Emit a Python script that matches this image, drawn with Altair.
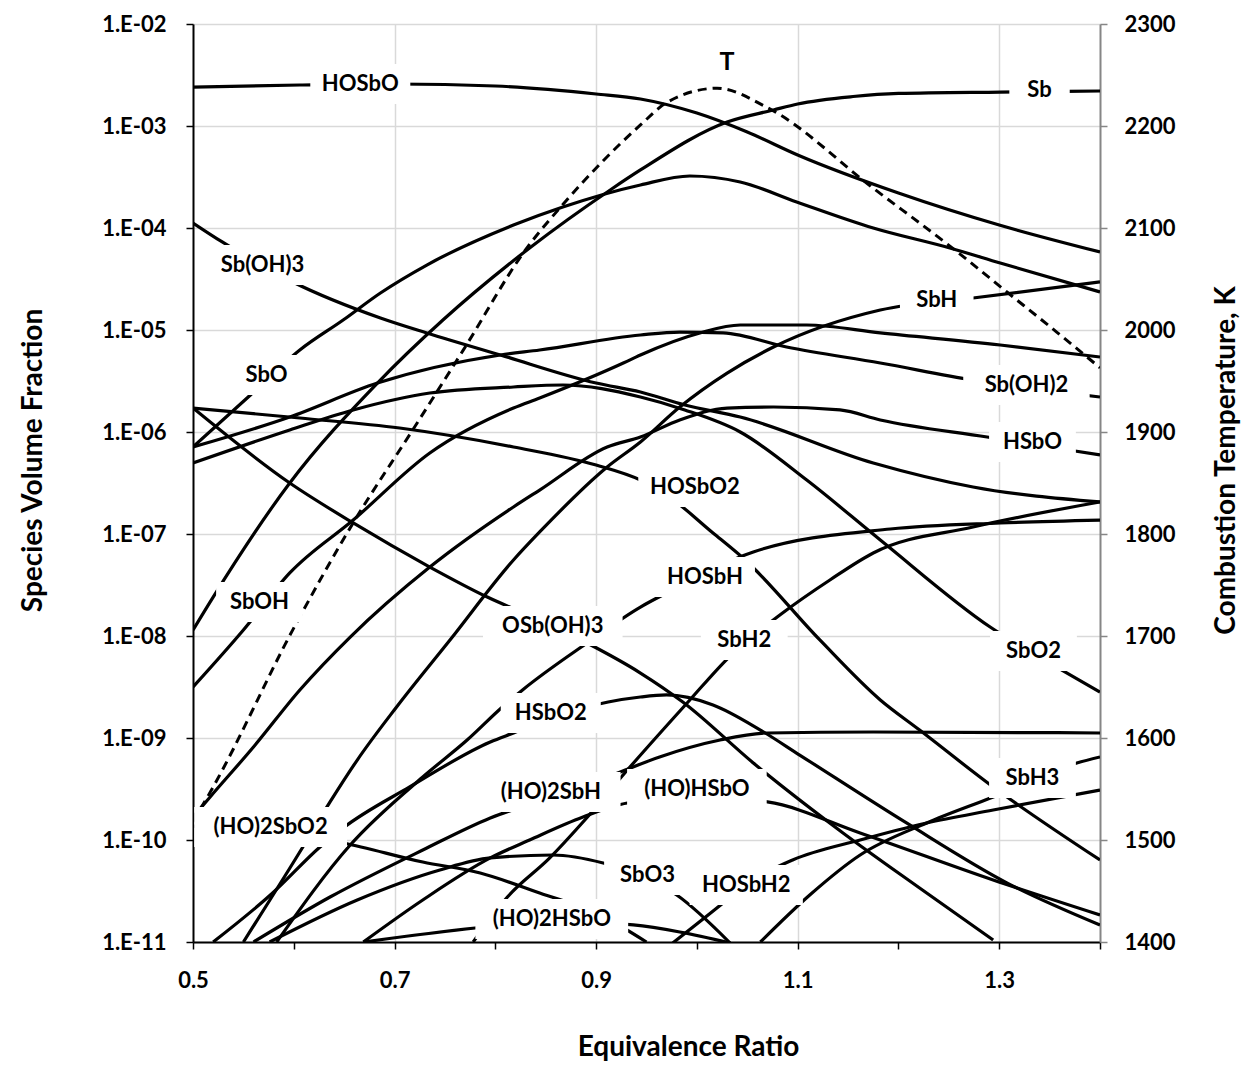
import altair as alt
import pandas as pd

# ---- values: equivalence ratio and log10(volume fraction) ----
HOSbO_phi = [0.5, 0.606, 0.7, 0.8, 0.9, 0.944, 1.0, 1.05, 1.1, 1.2, 1.3, 1.4]
HOSbO_lg = [-2.618, -2.598, -2.588, -2.608, -2.686, -2.735, -2.873, -3.059, -3.284, -3.657, -3.971, -4.235]

Sb_phi = [0.5, 0.52, 0.596, 0.683, 0.748, 0.834, 0.914, 0.944, 1.03, 1.076, 1.1, 1.155, 1.2, 1.301, 1.4]
Sb_lg = [-7.941, -7.618, -6.5, -5.52, -4.902, -4.196, -3.627, -3.431, -2.961, -2.843, -2.784, -2.711, -2.681, -2.667, -2.657]

SbO_phi = [0.5, 0.557, 0.606, 0.649, 0.686, 0.732, 0.818, 0.867, 0.944, 0.993, 1.043, 1.099, 1.175, 1.251, 1.301, 1.4]
SbO_lg = [-6.147, -5.637, -5.196, -4.902, -4.637, -4.363, -3.971, -3.794, -3.578, -3.49, -3.549, -3.745, -4.0, -4.196, -4.343, -4.627]

SbOH3_phi = [0.5, 0.529, 0.599, 0.686, 0.732, 0.805, 0.9, 0.944, 0.988, 1.043, 1.175, 1.274, 1.4]
SbOH3_lg = [-3.951, -4.137, -4.529, -4.882, -5.029, -5.245, -5.52, -5.608, -5.735, -5.853, -6.304, -6.539, -6.686]

SbH_phi = [0.55, 0.609, 0.636, 0.663, 0.702, 0.755, 0.818, 0.844, 0.911, 0.944, 0.983, 1.03, 1.076, 1.182, 1.274, 1.4]
SbH_lg = [-11.0, -10.069, -9.627, -9.216, -8.696, -8.039, -7.255, -6.98, -6.343, -6.098, -5.755, -5.422, -5.167, -4.804, -4.686, -4.529]

SbOH_phi = [0.5, 0.55, 0.596, 0.659, 0.735, 0.818, 0.844, 0.927, 0.944, 1.003, 1.043, 1.109, 1.182, 1.301, 1.4]
SbOH_lg = [-8.5, -7.941, -7.382, -6.863, -6.206, -5.765, -5.667, -5.324, -5.245, -5.029, -4.951, -4.951, -5.029, -5.147, -5.265]

SbOH2_phi = [0.5, 0.596, 0.683, 0.805, 0.844, 0.944, 0.983, 1.026, 1.089, 1.182, 1.274, 1.4]
SbOH2_lg = [-6.147, -5.853, -5.52, -5.245, -5.196, -5.049, -5.02, -5.029, -5.167, -5.324, -5.49, -5.657]

SbO2_phi = [0.5, 0.596, 0.659, 0.735, 0.818, 0.867, 0.944, 0.988, 1.043, 1.109, 1.182, 1.291, 1.357, 1.4]
SbO2_lg = [-6.304, -5.98, -5.784, -5.618, -5.559, -5.539, -5.657, -5.784, -6.0, -6.471, -7.059, -7.912, -8.304, -8.549]

HSbO_phi = [0.5, 0.517, 0.56, 0.606, 0.656, 0.735, 0.818, 0.844, 0.911, 0.944, 0.983, 1.03, 1.076, 1.142, 1.182, 1.288, 1.4]
HSbO_lg = [-9.775, -9.578, -9.088, -8.529, -8.01, -7.324, -6.735, -6.569, -6.147, -6.049, -5.882, -5.765, -5.755, -5.784, -5.882, -6.049, -6.225]

HOSbO2_phi = [0.5, 0.606, 0.705, 0.818, 0.9, 0.944, 0.963, 1.016, 1.048, 1.122, 1.182, 1.221, 1.294, 1.4]
HOSbO2_lg = [-5.765, -5.863, -5.961, -6.147, -6.324, -6.471, -6.569, -6.99, -7.255, -8.039, -8.627, -8.922, -9.48, -10.196]

OSbOH3_phi = [0.5, 0.596, 0.659, 0.735, 0.792, 0.844, 0.891, 0.944, 0.986, 1.056, 1.145, 1.221, 1.294]
OSbOH3_lg = [-5.765, -6.5, -6.892, -7.324, -7.618, -7.843, -8.069, -8.363, -8.647, -9.245, -9.931, -10.471, -10.98]

HSbO2_phi = [0.52, 0.579, 0.626, 0.649, 0.715, 0.795, 0.818, 0.864, 0.912, 0.944, 0.97, 1.016, 1.063, 1.102, 1.208, 1.308, 1.4]
HSbO2_lg = [-11.0, -10.52, -10.069, -9.882, -9.48, -9.039, -8.951, -8.775, -8.647, -8.598, -8.578, -8.676, -8.922, -9.167, -9.833, -10.422, -10.833]

HOSbH_phi = [0.583, 0.656, 0.728, 0.772, 0.807, 0.827, 0.891, 0.944, 0.97, 1.056, 1.192, 1.301, 1.4]
HOSbH_lg = [-11.0, -10.049, -9.382, -9.02, -8.696, -8.529, -8.069, -7.716, -7.578, -7.176, -6.951, -6.892, -6.863]

HO2SbO2_phi = [0.5, 0.649, 0.728, 0.785, 0.844, 0.904, 0.95]
HO2SbO2_lg = [-9.863, -10.029, -10.216, -10.324, -10.52, -10.735, -11.0]

SbO3_phi = [0.576, 0.663, 0.745, 0.795, 0.857, 0.907, 0.944, 0.98, 1.033]
SbO3_lg = [-11.0, -10.588, -10.294, -10.176, -10.147, -10.225, -10.343, -10.539, -11.01]

HOHSbO_phi = [0.669, 0.728, 0.795, 0.834, 0.887, 0.931, 1.003, 1.07, 1.162, 1.294, 1.4]
HOHSbO_lg = [-11.0, -10.588, -10.176, -10.0, -9.775, -9.637, -9.578, -9.627, -9.931, -10.392, -10.735]

HO2SbH_phi = [0.56, 0.636, 0.728, 0.795, 0.869, 0.924, 0.963, 1.023, 1.07, 1.175, 1.4]
HO2SbH_lg = [-11.0, -10.559, -10.098, -9.784, -9.539, -9.333, -9.186, -9.02, -8.951, -8.941, -8.951]

HO2HSbO_phi = [0.669, 0.78, 0.854, 0.937, 0.983, 1.033]
HO2HSbO_lg = [-11.0, -10.863, -10.794, -10.833, -10.902, -11.01]

SbH2_phi = [0.778, 0.812, 0.854, 0.887, 0.931, 0.993, 1.031, 1.085, 1.132, 1.175, 1.274, 1.4]
SbH2_lg = [-11.0, -10.559, -10.176, -9.824, -9.314, -8.627, -8.216, -7.775, -7.451, -7.186, -6.931, -6.686]

SbH3_phi = [1.063, 1.112, 1.162, 1.228, 1.294, 1.377, 1.4]
SbH3_lg = [-11.0, -10.539, -10.147, -9.833, -9.578, -9.245, -9.186]

HOSbH2_phi = [0.976, 1.026, 1.048, 1.095, 1.162, 1.228, 1.294, 1.4]
HOSbH2_lg = [-11.01, -10.618, -10.441, -10.196, -10.0, -9.833, -9.706, -9.51]

# combustion temperature (K), right axis
T_phi = [0.5, 0.52, 0.599, 0.659, 0.718, 0.768, 0.831, 0.867, 0.944, 0.97, 1.02, 1.07, 1.175, 1.254, 1.308, 1.357, 1.4]
T_K = [1518, 1552, 1706, 1811, 1902, 1980, 2080, 2123, 2201, 2223, 2237, 2218, 2139, 2080, 2037, 1998, 1963]

# curve labels
label_text = ["HOSbO", "Sb", "Sb(OH)3", "SbH", "SbO", "Sb(OH)2", "HSbO", "HOSbO2", "SbOH", "HOSbH",
              "OSb(OH)3", "SbH2", "SbO2", "HSbO2", "SbH3", "(HO)2SbH", "(HO)HSbO", "(HO)2SbO2",
              "SbO3", "HOSbH2", "(HO)2HSbO"]
label_phi = [0.666, 1.340, 0.569, 1.238, 0.573, 1.327, 1.333, 0.998, 0.566, 1.008,
             0.857, 1.047, 1.334, 0.855, 1.333, 0.855, 1.0, 0.577,
             0.951, 1.049, 0.856]
label_lg = [-2.588, -2.647, -4.363, -4.706, -5.441, -5.539, -6.098, -6.539, -7.667, -7.422,
            -7.902, -8.039, -8.147, -8.755, -9.392, -9.529, -9.5, -9.873,
            -10.343, -10.441, -10.775]
T_label = "T"
T_label_phi = 1.030
T_label_K = 2263

series = {
    "HOSbO": (HOSbO_phi, HOSbO_lg), "Sb": (Sb_phi, Sb_lg), "SbO": (SbO_phi, SbO_lg),
    "Sb(OH)3": (SbOH3_phi, SbOH3_lg), "SbH": (SbH_phi, SbH_lg), "SbOH": (SbOH_phi, SbOH_lg),
    "Sb(OH)2": (SbOH2_phi, SbOH2_lg), "SbO2": (SbO2_phi, SbO2_lg), "HSbO": (HSbO_phi, HSbO_lg),
    "HOSbO2": (HOSbO2_phi, HOSbO2_lg), "OSb(OH)3": (OSbOH3_phi, OSbOH3_lg),
    "HSbO2": (HSbO2_phi, HSbO2_lg), "HOSbH": (HOSbH_phi, HOSbH_lg),
    "(HO)2SbO2": (HO2SbO2_phi, HO2SbO2_lg), "SbO3": (SbO3_phi, SbO3_lg),
    "(HO)HSbO": (HOHSbO_phi, HOHSbO_lg), "(HO)2SbH": (HO2SbH_phi, HO2SbH_lg),
    "(HO)2HSbO": (HO2HSbO_phi, HO2HSbO_lg), "SbH2": (SbH2_phi, SbH2_lg),
    "SbH3": (SbH3_phi, SbH3_lg), "HOSbH2": (HOSbH2_phi, HOSbH2_lg),
}

rows = []
for name, (ph, lg) in series.items():
    for i, (p, l) in enumerate(zip(ph, lg)):
        rows.append({"species": name, "phi": p, "value": 10 ** l, "i": i})
df = pd.DataFrame(rows)

df_T = pd.DataFrame({"phi": T_phi, "T": T_K, "i": list(range(len(T_phi)))})

BOX_H = 40
lab_rows = []
for t, p, l in zip(label_text, label_phi, label_lg):
    w = 13.2 * len(t) + 34
    r = (BOX_H / 2) / (w / 2)
    lab_rows.append({"label": t, "phi": p, "value": 10 ** l,
                     "shape": f"M-1,{-r:.4f}L1,{-r:.4f}L1,{r:.4f}L-1,{r:.4f}Z",
                     "size": w * w})
df_lab = pd.DataFrame(lab_rows)
df_Tlab = pd.DataFrame({"label": [T_label], "phi": [T_label_phi], "T": [T_label_K]})

FONT = "Lato"
LFS = 22
xscale = alt.Scale(domain=[0.5, 1.4], nice=False, zero=False)
yscale = alt.Scale(type="log", domain=[1e-11, 1e-2], nice=False)
tscale = alt.Scale(domain=[1400, 2300], nice=False, zero=False)

x_axis = alt.Axis(
    values=[0.5, 0.6, 0.7, 0.8, 0.9, 1.0, 1.1, 1.2, 1.3, 1.4],
    labelExpr="(round(datum.value*10) % 2 == 1) ? format(datum.value, '.1f') : ''",
    gridOpacity={"condition": {"test": "round(datum.value*10) % 2 == 1 && datum.value > 0.55", "value": 1}, "value": 0},
    grid=True, gridColor="#d9d9d9", gridWidth=1.5, labelFlush=False, labelOverlap=False,
    tickSize=7, tickWidth=1.5, tickColor="black", domainColor="black", domainWidth=2,
    labelFont=FONT, labelFontWeight="bold", labelFontSize=LFS, labelColor="black", labelPadding=21,
    title="Equivalence Ratio", titleFont=FONT, titleFontWeight="bold", titleFontSize=28,
    titleColor="black", titleX=495, titleY=105, titleBaseline="middle", titleAlign="center",
)
y_axis = alt.Axis(
    values=[10.0 ** (-k) for k in range(2, 12)],
    labelExpr="'1.E-' + (round(-log(datum.value)/LN10) < 10 ? '0' : '') + round(-log(datum.value)/LN10)",
    grid=True, gridColor="#d9d9d9", gridWidth=1.5, labelFlush=False, labelOverlap=False,
    tickSize=7, tickWidth=1.5, tickColor="black", domainColor="black", domainWidth=2,
    labelFont=FONT, labelFontWeight="bold", labelFontSize=LFS, labelColor="black", labelPadding=20,
    title="Species Volume Fraction", titleFont=FONT, titleFontWeight="bold", titleFontSize=28,
    titleColor="black", titleAngle=270, titleX=-160, titleY=436, titleBaseline="middle", titleAlign="center",
)
t_axis = alt.Axis(
    orient="right", values=list(range(1400, 2301, 100)), format="d", grid=False,
    labelFlush=False, labelOverlap=False,
    tickSize=7, tickWidth=1.5, tickColor="#868686", domainColor="#868686", domainWidth=2,
    labelFont=FONT, labelFontWeight="bold", labelFontSize=LFS, labelColor="black", labelPadding=17,
    title="Combustion Temperature, K", titleFont=FONT, titleFontWeight="bold", titleFontSize=28,
    titleColor="black", titleAngle=270, titleX=126, titleY=436, titleBaseline="middle", titleAlign="center",
)

curves = alt.Chart(df).mark_line(color="black", strokeWidth=3.2, interpolate="monotone", clip=True).encode(
    x=alt.X("phi:Q", scale=xscale, axis=x_axis),
    y=alt.Y("value:Q", scale=yscale, axis=y_axis),
    detail="species:N",
    order="i:Q",
)

tline = alt.Chart(df_T).mark_line(color="black", strokeWidth=3, strokeDash=[9, 6], interpolate="monotone", clip=True).encode(
    x=alt.X("phi:Q", scale=xscale),
    y=alt.Y("T:Q", scale=tscale, axis=t_axis),
    order="i:Q",
)

boxes = alt.Chart(df_lab).mark_point(filled=True, fill="white", opacity=1, strokeWidth=0).encode(
    x=alt.X("phi:Q", scale=xscale),
    y=alt.Y("value:Q", scale=yscale, axis=None),
    shape=alt.Shape("shape:N", scale=None),
    size=alt.Size("size:Q", scale=None),
)

texts = alt.Chart(df_lab).mark_text(font=FONT, fontWeight="bold", fontSize=LFS, color="black",
                                    baseline="middle", align="center").encode(
    x=alt.X("phi:Q", scale=xscale),
    y=alt.Y("value:Q", scale=yscale, axis=None),
    text="label:N",
)

ttext = alt.Chart(df_Tlab).mark_text(font=FONT, fontWeight="bold", fontSize=25, color="black",
                                     baseline="middle", align="center").encode(
    x=alt.X("phi:Q", scale=xscale),
    y=alt.Y("T:Q", scale=tscale, axis=None),
    text="label:N",
)

chart = alt.layer(curves, tline, boxes, texts, ttext).resolve_scale(y="independent").properties(
    width=907, height=918,
    padding={"left": 193, "top": 24, "right": 142, "bottom": 123},
    autosize=alt.AutoSizeParams(type="none"),
    background="white",
).configure_view(stroke=None)

chart.save("out.html", embed_options={"renderer": "svg", "actions": False})
